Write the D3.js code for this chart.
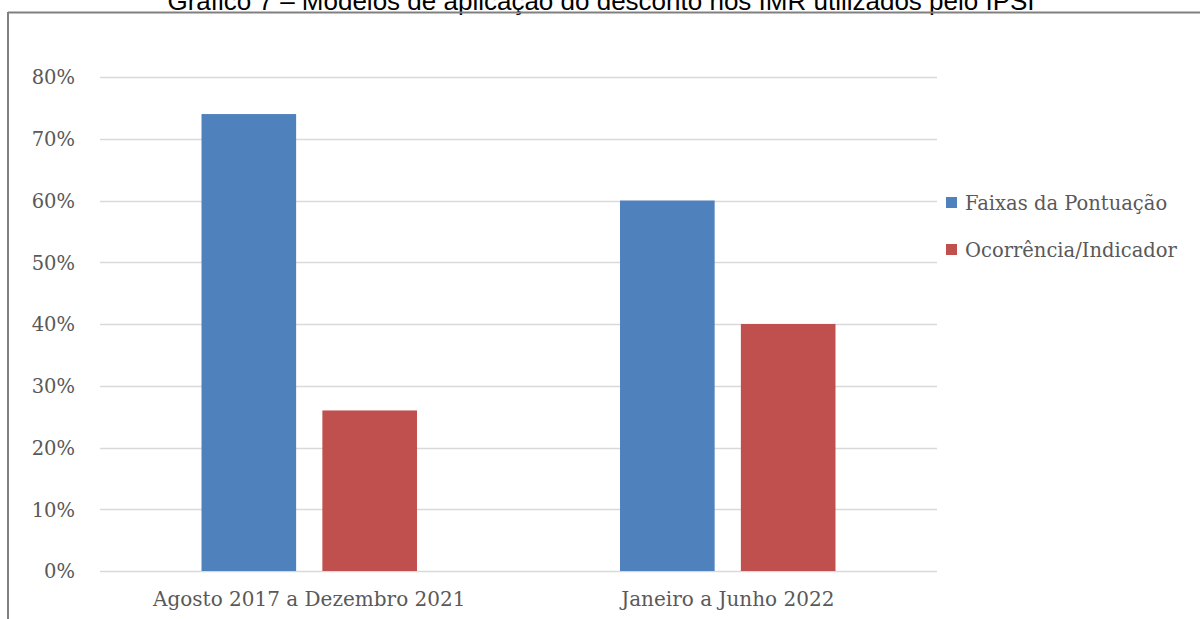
<!DOCTYPE html>
<html>
<head>
<meta charset="utf-8">
<script src="https://cdn.jsdelivr.net/npm/d3@7"></script>
<style>
  html, body { margin: 0; padding: 0; background: #fff; }
  svg { display: block; }
</style>
</head>
<body>
<svg id="chart" width="1200" height="619"></svg>
<script>
const categories = ["Agosto 2017 a Dezembro 2021", "Janeiro a Junho 2022"];
const seriesNames = ["Faixas da Pontuação", "Ocorrência/Indicador"];
const seriesColors = ["#4f81bd", "#c0504d"];
const faixasValues = [0.74, 0.60];
const ocorrenciaValues = [0.26, 0.40];
const yTicks = [0, 0.1, 0.2, 0.3, 0.4, 0.5, 0.6, 0.7, 0.8];
const title = "Gráfico 7 – Modelos de aplicação do desconto nos IMR utilizados pelo IPSI";

const svg = d3.select("#chart");
const W = 1200, H = 619;
const margin = { left: 100, right: 263, top: 77, bottom: 48 };
const plotW = W - margin.left - margin.right;
const plotH = H - margin.top - margin.bottom;

const serifFont = "'DejaVu Serif', 'Liberation Serif', serif";
const textColor = "#595959";

// Caption above the frame (its upper part runs past the top edge)
svg.append("text")
  .attr("x", 601).attr("y", 10)
  .attr("text-anchor", "middle")
  .attr("font-family", "'Liberation Sans', Arial, sans-serif")
  .attr("font-size", 26)
  .attr("fill", "#000")
  .text(title);

// Frame
svg.append("line").attr("x1", 8).attr("x2", W).attr("y1", 12.5).attr("y2", 12.5)
  .attr("stroke", "#808080").attr("stroke-width", 2);
svg.append("line").attr("x1", 8).attr("x2", 8).attr("y1", 12).attr("y2", H)
  .attr("stroke", "#808080").attr("stroke-width", 2);

const g = svg.append("g").attr("transform", `translate(${margin.left},${margin.top})`);

const x0 = d3.scaleBand().domain(categories).range([0, plotW]);
const x1 = d3.scaleBand().domain(seriesNames).range([0, x0.bandwidth()])
  .paddingInner(0.217).paddingOuter(0.84);
const y = d3.scaleLinear().domain([0, 0.8]).range([plotH, 0]);

// Gridlines
g.append("g").selectAll("line").data(yTicks).join("line")
  .attr("x1", 0).attr("x2", plotW)
  .attr("y1", d => Math.round(y(d)) + 0.5).attr("y2", d => Math.round(y(d)) + 0.5)
  .attr("stroke", "#d9d9d9").attr("stroke-width", 1.5);

// Y axis labels
const yAxis = d3.axisLeft(y).tickValues(yTicks).tickFormat(d3.format(".0%")).tickSize(0).tickPadding(25);
const ya = g.append("g").call(yAxis);
ya.select(".domain").remove();
ya.selectAll("text").attr("font-family", serifFont).attr("font-size", 19.5)
  .attr("fill", textColor).attr("dy", "0.35em");

// Bars
const rows = categories.map((c, i) => ({
  cat: c,
  vals: [
    { s: seriesNames[0], v: faixasValues[i], c: seriesColors[0] },
    { s: seriesNames[1], v: ocorrenciaValues[i], c: seriesColors[1] }
  ]
}));
g.append("g").selectAll("g").data(rows).join("g")
  .attr("transform", d => `translate(${x0(d.cat)},0)`)
  .selectAll("rect").data(d => d.vals).join("rect")
  .attr("x", d => x1(d.s)).attr("width", x1.bandwidth())
  .attr("y", d => y(d.v)).attr("height", d => plotH - y(d.v))
  .attr("fill", d => d.c);

// X axis labels
const xAxis = d3.axisBottom(x0).tickSize(0).tickPadding(31);
const xa = g.append("g").attr("transform", `translate(0,${plotH})`).call(xAxis);
xa.select(".domain").remove();
xa.selectAll("text").attr("font-family", serifFont).attr("font-size", 20)
  .attr("fill", textColor).attr("dy", "0.2em");

// Legend
const legend = svg.append("g").attr("transform", "translate(946,197)");
const li = legend.selectAll("g").data(seriesNames).join("g")
  .attr("transform", (d, i) => `translate(0,${i * 47})`);
li.append("rect").attr("width", 11).attr("height", 11).attr("fill", (d, i) => seriesColors[i]);
li.append("text").attr("x", 19).attr("y", 6).attr("dy", "0.35em")
  .attr("font-family", serifFont).attr("font-size", 19.5).attr("fill", textColor)
  .text(d => d);
</script>
</body>
</html>
